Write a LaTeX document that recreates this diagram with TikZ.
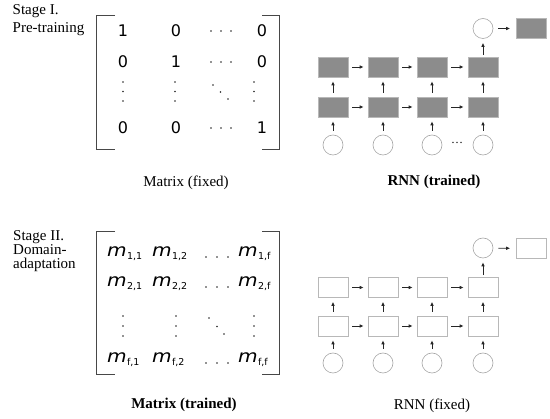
\documentclass[tikz,border=0pt]{standalone}
\usepackage{graphicx}
\usepackage{fontspec}
\setmainfont{Liberation Serif}
\newfontfamily\dv{DejaVu Sans}
\usetikzlibrary{arrows.meta}
\newcommand{\mentry}[1]{\scalebox{1.15}[1]{\itshape m}\kern0.3pt\raisebox{-3.2pt}{\fontsize{9.5}{9.5}\selectfont #1}}
\begin{document}
\begin{tikzpicture}[x=1pt,y=-1pt,
  lbl/.style={font=\fontsize{15}{17}\selectfont, inner sep=0, anchor=base},
  stg/.style={font=\fontsize{15}{17}\selectfont, inner sep=0, anchor=base west},
  ent/.style={font=\dv\fontsize{16}{16}\selectfont, inner sep=0},
  ment/.style={font=\dv\fontsize{17.5}{18}\selectfont, inner sep=0, anchor=west},
  brk/.style={draw=black!72, line width=1pt},
  cell/.style={draw=black!28, fill=black!45, line width=0.6pt, minimum width=30pt, minimum height=20pt, inner sep=0},
  ecell/.style={cell, fill=white},
  inp/.style={circle, draw=black!35, fill=white, minimum size=20pt, inner sep=0, line width=0.6pt},
  arr/.style={-{Latex[length=4pt,width=3.6pt]}, line width=0.8pt, draw=black!85, shorten >=4pt, shorten <=4pt}
]
\useasboundingbox (0,0) rectangle (550,419);

% ---------- Stage I labels ----------
\node[stg] (s1a) at (12.5,15) {Stage I.};
\node[stg] (s1b) at (12.5,33) {Pre-training};

% ---------- Matrix I ----------
\draw[brk] (115,16) -- (96,16) -- (96,150) -- (115,150);
\draw[brk] (262,16) -- (279,16) -- (279,150) -- (262,150);
\node[ent] (a11) at (123,31) {1};
\node[ent] (a12) at (176,31) {0};
\node[ent] (a1n) at (262,31) {0};
\node[ent] (a21) at (123,62) {0};
\node[ent] (a22) at (176,62) {1};
\node[ent] (a2n) at (262,62) {0};
\node[ent] (an1) at (123,128) {0};
\node[ent] (an2) at (176,128) {0};
\node[ent] (ann) at (262,128) {1};
\foreach \y in {31,62,128} {
  \foreach \x in {211,221,231} \fill[black!85] (\x,\y) circle (0.85pt);
}
\foreach \x in {123,175,254} {
  \foreach \y in {82,91.5,101} \fill[black!85] (\x,\y) circle (0.85pt);
}
\foreach \x/\y in {213/85,220.5/92,228/99} \fill[black!85] (\x,\y) circle (0.85pt);
\node[lbl] (m1cap) at (186,186.5) {Matrix (fixed)};

% ---------- RNN I ----------
\foreach \i/\x in {1/333,2/383,3/432,4/483} {
  \node[inp]  (x\i) at (\x,145) {};
  \node[cell] (l\i) at (\x,107) {};
  \node[cell] (u\i) at (\x,67) {};
  \draw[arr] (x\i) -- (l\i);
  \draw[arr] (l\i) -- (u\i);
}
\foreach \i/\j in {1/2,2/3,3/4} {
  \draw[arr] (l\i) -- (l\j);
  \draw[arr] (u\i) -- (u\j);
}
\node[inp] (o1) at (483,28.5) {};
\node[cell] (r1) at (531.5,28.5) {};
\draw[arr, shorten <=2pt] (u4) -- (o1);
\draw[arr, shorten <=5pt, shorten >=6pt] (o1) -- (r1);
\node[font=\fontsize{12}{12}\selectfont, inner sep=0] (ell) at (457,143) {…};
\node[lbl, font=\bfseries\fontsize{15}{17}\selectfont] (r1cap) at (434,185.5) {RNN (trained)};

% ---------- Stage II labels ----------
\node[stg] (s2a) at (13,241) {Stage II.};
\node[stg] (s2b) at (13,255) {Domain-};
\node[stg] (s2c) at (13,269) {adaptation};

% ---------- Matrix II ----------
\draw[brk] (115,232) -- (96,232) -- (96,375) -- (115,375);
\draw[brk] (262,232) -- (279,232) -- (279,375) -- (262,375);
\node[ment] (b11) at (107,254) {\mentry{1,1}};
\node[ment] (b12) at (152,254) {\mentry{1,2}};
\node[ment] (b1f) at (238,254) {\mentry{1,f}};
\node[ment] (b21) at (107,284) {\mentry{2,1}};
\node[ment] (b22) at (152,284) {\mentry{2,2}};
\node[ment] (b2f) at (238,284) {\mentry{2,f}};
\node[ment] (bf1) at (107,360) {\mentry{f,1}};
\node[ment] (bf2) at (152,360) {\mentry{f,2}};
\node[ment] (bff) at (238,360) {\mentry{f,f}};
\foreach \y in {257,287,363} {
  \foreach \x in {206,217,228} \fill[black!85] (\x,\y) circle (0.85pt);
}
\foreach \x in {123,176,254} {
  \foreach \y in {316,326,336} \fill[black!85] (\x,\y) circle (0.85pt);
}
\foreach \x/\y in {209/318,217/326.5,224/334} \fill[black!85] (\x,\y) circle (0.85pt);
\node[lbl, font=\bfseries\fontsize{15}{17}\selectfont] (m2cap) at (184,409) {Matrix (trained)};

% ---------- RNN II ----------
\foreach \i/\x in {1/333,2/383,3/432,4/483} {
  \node[inp]   (y\i) at (\x,363) {};
  \node[ecell] (p\i) at (\x,326) {};
  \node[ecell] (q\i) at (\x,287.5) {};
  \draw[arr] (y\i) -- (p\i);
  \draw[arr] (p\i) -- (q\i);
}
\foreach \i/\j in {1/2,2/3,3/4} {
  \draw[arr] (p\i) -- (p\j);
  \draw[arr] (q\i) -- (q\j);
}
\node[inp] (o2) at (483,248) {};
\node[ecell] (r2) at (531.5,248.5) {};
\draw[arr, shorten <=2pt] (q4) -- (o2);
\draw[arr, shorten <=5pt, shorten >=6pt] (o2) -- (r2);
\node[lbl] (r2cap) at (432,410) {RNN (fixed)};
\end{tikzpicture}
\end{document}
